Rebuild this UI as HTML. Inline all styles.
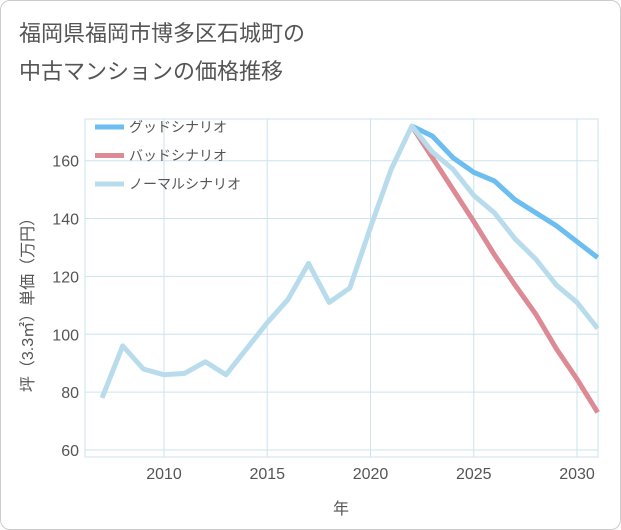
<!DOCTYPE html>
<html><head><meta charset="utf-8"><style>
body{margin:0;background:#fff;font-family:"Liberation Sans","Noto Sans CJK JP",sans-serif}
#wrap{position:relative;width:619px;height:528px;border:1px solid #ccc;border-radius:10px;overflow:hidden;background:#fff}
.t{position:absolute;left:18px;font-size:22px;color:#555}
</style></head><body>
<div id="wrap">
<div class="t" style="top:15px">福岡県福岡市博多区石城町の</div>
<div class="t" style="top:53px">中古マンションの価格推移</div>
<svg id="c" width="621" height="530" style="position:absolute;left:0;top:0"></svg>
</div>
<script>
const years=[2007,2008,2009,2010,2011,2012,2013,2014,2015,2016,2017,2018,2019,2020,2021,2022,2023,2024,2025,2026,2027,2028,2029,2030,2031];
const normal=[78,96,88,86,86.5,90.5,86,95,104,112,124.5,111,116,137,157,172,163,157,148,142,133,126,117,111,102];
const fYears=[2022,2023,2024,2025,2026,2027,2028,2029,2030,2031];
const good=[172,168.5,161,156,153,146.5,142,137.5,132,126.5];
const bad=[172,161,150,139,127.5,117,107,95,84.5,73];
const xTicks=[2010,2015,2020,2025,2030];
const yTicks=[60,80,100,120,140,160];
const L=84,R=597,T=118,B=456;
const x=v=>163+(v-2010)*20.65;
const y=v=>449-(v-60)*2.893;
const svg=document.getElementById('c');const NS='http://www.w3.org/2000/svg';
function mk(tag,attrs,name,inter){const e=document.createElementNS(NS,tag);for(const k in attrs)e.setAttribute(k,attrs[k]);


svg.appendChild(e);return e;}
mk('rect',{x:L,y:T,width:R-L,height:B-T,fill:'none',stroke:'#cde3ee'},'plot-area');
xTicks.forEach(t=>{mk('line',{x1:x(t),x2:x(t),y1:T,y2:B,stroke:'#cde3ee'},'x-gridline');
const tx=mk('text',{x:x(t),y:478,'text-anchor':'middle','font-size':16,fill:'#555'},'x-tick-label');tx.textContent=t;});
yTicks.forEach(t=>{mk('line',{x1:L,x2:R,y1:y(t),y2:y(t),stroke:'#cde3ee'},'y-gridline');
const tx=mk('text',{x:78,y:y(t)+6,'text-anchor':'end','font-size':16,fill:'#555'},'y-tick-label');tx.textContent=t;});
const xt=mk('text',{x:340,y:513,'text-anchor':'middle','font-size':16,fill:'#555'},'x-axis-title');xt.textContent='年';
const yt=mk('text',{x:0,y:0,'text-anchor':'middle','font-size':16,fill:'#555',transform:'translate(32,300) rotate(-90)'},'y-axis-title');yt.textContent='坪（3.3㎡）単価（万円）';
function line(xs,vs,col,name){mk('polyline',{points:xs.map((v,i)=>x(v)+','+y(vs[i])).join(' '),fill:'none',stroke:col,'stroke-width':5,'stroke-linejoin':'round'},name);}
line(fYears,good,'#6cbdf0','good-scenario-line');
line(fYears,bad,'#dc8a93','bad-scenario-line');
line(years,normal,'#b9dced','normal-scenario-line');
[['グッドシナリオ','#6cbdf0','legend-good'],['バッドシナリオ','#dc8a93','legend-bad'],['ノーマルシナリオ','#b9dced','legend-normal']].forEach((d,i)=>{
const yy=126+i*28.5;
mk('line',{x1:94,x2:123,y1:yy,y2:yy,stroke:d[1],'stroke-width':5},d[2]+'-swatch');
const tx=mk('text',{x:128,y:yy+5,'font-size':14,fill:'#555'},d[2]+'-label');tx.textContent=d[0];});
</script>
</body></html>
